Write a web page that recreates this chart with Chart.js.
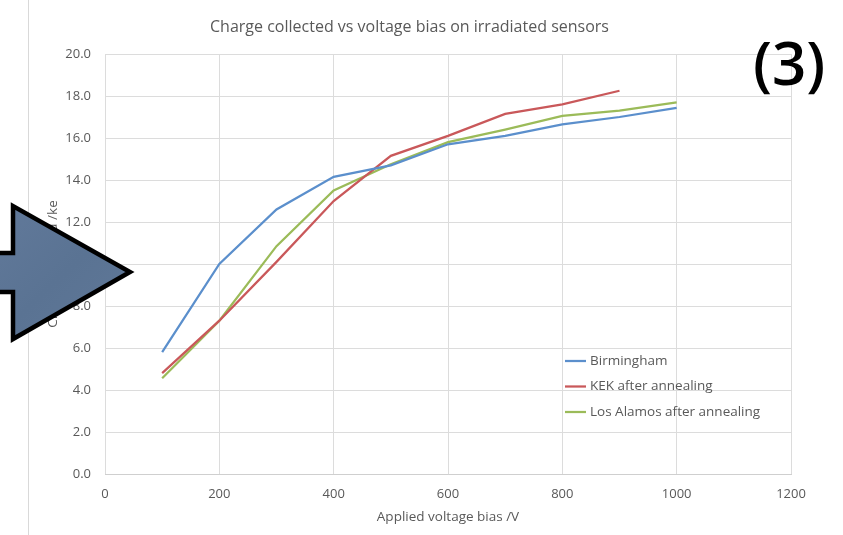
<!DOCTYPE html>
<html>
<head>
<meta charset="utf-8">
<script src="https://cdn.jsdelivr.net/npm/chart.js@4.4.1/dist/chart.umd.min.js"></script>
<style>
  html, body { margin: 0; padding: 0; background: #fff; }
  #wrap { position: relative; width: 843px; height: 535px; }
</style>
</head>
<body>
<div id="wrap"><canvas id="chart" width="843" height="535"></canvas></div>
<script>
// data
var voltages   = [100, 200, 300, 400, 500, 600, 700, 800, 900, 1000];
var birmingham = [5.8, 10.0, 12.6, 14.15, 14.7, 15.7, 16.1, 16.65, 17.0, 17.43];
var kek        = [4.8, 7.3, 10.1, 13.0, 15.15, 16.1, 17.15, 17.6, 18.25, null];
var losAlamos  = [4.56, 7.3, 10.85, 13.5, 14.75, 15.8, 16.4, 17.05, 17.3, 17.7];
var seriesNames = ['Birmingham', 'KEK after annealing', 'Los Alamos after annealing'];
var xTicks = [0, 200, 400, 600, 800, 1000, 1200];
var yTicks = [0, 2, 4, 6, 8, 10, 12, 14, 16, 18, 20];

var colors = { blue: '#5b8fcc', red: '#c9585a', green: '#9bbb59', grid: '#dcdcdc', text: '#595959' };
var fontFamily = '"Open Sans", "Noto Sans", sans-serif';

function toPoints(xs, ys) {
  var out = [];
  for (var i = 0; i < xs.length; i++) {
    if (ys[i] !== null) out.push({ x: xs[i], y: ys[i] });
  }
  return out;
}

// legend inside the plot, lower right
var innerLegend = {
  id: 'innerLegend',
  afterDatasetsDraw: function (chart) {
    var ctx = chart.ctx;
    ctx.save();
    ctx.font = '13.5px ' + fontFamily;
    ctx.textBaseline = 'middle';
    chart.data.datasets.forEach(function (ds, i) {
      var y = 361 + i * 25.5;
      ctx.strokeStyle = ds.borderColor;
      ctx.lineWidth = 2.25;
      ctx.beginPath();
      ctx.moveTo(565, y);
      ctx.lineTo(586, y);
      ctx.stroke();
      ctx.fillStyle = colors.text;
      ctx.fillText(ds.label, 590, y);
    });
    ctx.restore();
  }
};

// frame edge, big arrow and the (3) mark
var decorations = {
  id: 'decorations',
  beforeDraw: function (chart) {
    var ctx = chart.ctx;
    ctx.save();
    ctx.strokeStyle = '#d9d9d9';
    ctx.lineWidth = 1;
    ctx.beginPath();
    ctx.moveTo(28.5, 0);
    ctx.lineTo(28.5, 535);
    ctx.stroke();
    ctx.restore();
  },
  afterDraw: function (chart) {
    var ctx = chart.ctx;
    ctx.save();
    ctx.beginPath();
    ctx.moveTo(-10, 253);
    ctx.lineTo(13, 253);
    ctx.lineTo(13, 206);
    ctx.lineTo(130, 272);
    ctx.lineTo(13, 339);
    ctx.lineTo(13, 292);
    ctx.lineTo(-10, 292);
    ctx.closePath();
    var g = ctx.createLinearGradient(0, 206, 130, 339);
    g.addColorStop(0, '#61799a');
    g.addColorStop(0.5, '#5a7393');
    g.addColorStop(1, '#607898');
    ctx.fillStyle = g;
    ctx.fill();
    ctx.lineJoin = 'miter';
    ctx.lineWidth = 4.5;
    ctx.strokeStyle = '#000';
    ctx.stroke();

    ctx.fillStyle = '#000';
    ctx.font = '600 60px ' + fontFamily;
    ctx.textBaseline = 'alphabetic';
    ctx.textAlign = 'left';
    ctx.fillText('(3)', 753, 85);
    ctx.restore();
  }
};

new Chart(document.getElementById('chart'), {
  type: 'line',
  data: {
    datasets: [
      { label: seriesNames[0], data: toPoints(voltages, birmingham), borderColor: colors.blue },
      { label: seriesNames[1], data: toPoints(voltages, kek), borderColor: colors.red },
      { label: seriesNames[2], data: toPoints(voltages, losAlamos), borderColor: colors.green },
    ].map(function (d) {
      d.borderWidth = 2.25; d.pointRadius = 0; d.tension = 0; d.fill = false;
      return d;
    }),
  },
  options: {
    responsive: false, animation: false,
    layout: { padding: { left: 28, right: 52, top: 0, bottom: 0 } },
    plugins: {
      legend: { display: false },
      tooltip: { enabled: false },
      title: {
        display: true, text: 'Charge collected vs voltage bias on irradiated sensors',
        color: colors.text, font: { family: fontFamily, size: 16, weight: 'normal' },
        padding: { top: 17.4, bottom: 17.4 },
      },
    },
    scales: {
      x: {
        type: 'linear', min: 0, max: 1200,
        afterBuildTicks: function (s) { s.ticks = xTicks.map(function (v) { return { value: v }; }); },
        afterFit: function (s) { s.height = 61; },
        grid: { color: colors.grid, drawTicks: false },
        border: { color: '#cfcfcf' },
        ticks: {
          color: colors.text, font: { family: fontFamily, size: 13 }, padding: 12, maxRotation: 0,
          callback: function (v) { return String(v); },
        },
        title: { display: true, text: 'Applied voltage bias /V', color: colors.text, font: { family: fontFamily, size: 13.5 }, padding: 10 },
      },
      y: {
        min: 0, max: 20,
        afterBuildTicks: function (s) { s.ticks = yTicks.map(function (v) { return { value: v }; }); },
        afterFit: function (s) { s.width = 77; },
        grid: { color: colors.grid, drawTicks: false },
        border: { display: false },
        ticks: {
          color: colors.text, font: { family: fontFamily, size: 13 }, padding: 14,
          callback: function (v) { return v.toFixed(1); },
        },
        title: { display: true, text: 'Charge collected /ke', color: colors.text, font: { family: fontFamily, size: 13.5 }, padding: 17 },
      },
    },
  },
  plugins: [innerLegend, decorations],
});
</script>
</body>
</html>
